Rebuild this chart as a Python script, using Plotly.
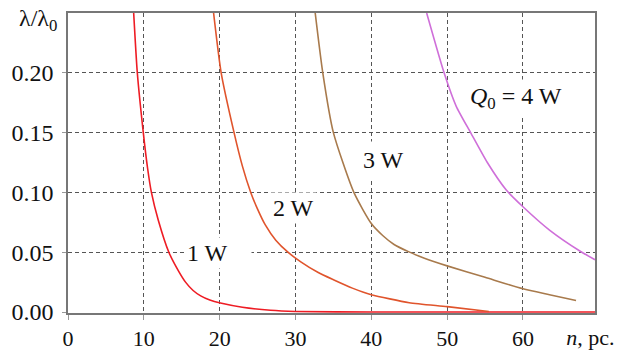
import plotly.graph_objects as go

# ---- data ----
n_1w = [8.66, 9.14, 9.93, 10.5, 11.0, 11.9, 13.3, 14.6, 15.5, 16.5, 17.5, 18.7, 20.1, 23.0, 26.7, 30.0, 40.0, 69.5]
v_1w = [0.25, 0.20, 0.15, 0.12, 0.10, 0.077, 0.05, 0.034, 0.025, 0.018, 0.0135, 0.010, 0.0075, 0.004, 0.0015, 0.0005, 0.0, 0.0]

n_2w = [19.2, 20.2, 21.9, 23.0, 24.1, 25.0, 26.0, 27.4, 29.0, 30.7, 33.0, 35.0, 37.5, 40.0, 45.0, 50.0, 55.5]
v_2w = [0.25, 0.20, 0.15, 0.122, 0.10, 0.086, 0.073, 0.060, 0.05, 0.042, 0.033, 0.027, 0.020, 0.0145, 0.0078, 0.0045, 0.0005]

n_3w = [32.6, 33.6, 35.0, 37.7, 40.0, 41.5, 43.0, 44.9, 47.0, 50.0, 55.0, 60.0, 63.5, 67.0]
v_3w = [0.25, 0.20, 0.15, 0.10, 0.074, 0.064, 0.0565, 0.0505, 0.045, 0.0386, 0.029, 0.0194, 0.0145, 0.0097]

n_4w = [47.3, 49.6, 51.2, 53.1, 55.3, 57.8, 60.0, 63.5, 67.5, 69.5]
v_4w = [0.25, 0.20, 0.172, 0.15, 0.125, 0.102, 0.088, 0.0685, 0.051, 0.0437]

x_ticks = [0, 10, 20, 30, 40, 50, 60]
y_ticks = [0.0, 0.05, 0.10, 0.15, 0.20]
y_tick_text = ["0.00", "0.05", "0.10", "0.15", "0.20"]

series = [
    (n_1w, v_1w, "#ee1c24", "1 W"),
    (n_2w, v_2w, "#e0542c", "2 W"),
    (n_3w, v_3w, "#a87a4c", "3 W"),
    (n_4w, v_4w, "#cf6fd9", "4 W"),
]

FONT = "Liberation Serif, Times New Roman, serif"
tfont = dict(family=FONT, size=24, color="#111")
xfont = dict(family=FONT, size=22, color="#111")

fig = go.Figure()
for xs, ys, col, name in series:
    fig.add_trace(go.Scatter(x=xs, y=ys, mode="lines", name=name,
                             line=dict(color=col, width=1.6, shape="spline", smoothing=0.6),
                             showlegend=False))
# empty trace that carries the x-axis caption axis
fig.add_trace(go.Scatter(x=[None], y=[None], xaxis="x2", yaxis="y", showlegend=False,
                         hoverinfo="skip"))

# curve labels (white boxes interrupt the grid like in the reference)
fig.add_annotation(x=19.8, y=0.049, text="1 W", showarrow=False, font=tfont,
                   bgcolor="white", width=62, align="left", borderpad=2)
fig.add_annotation(x=29.7, y=0.0867, text="2 W", showarrow=False, font=tfont,
                   bgcolor="white", borderpad=2)
fig.add_annotation(x=41.6, y=0.1275, text="3 W", showarrow=False, font=tfont,
                   bgcolor="white", borderpad=5)
fig.add_annotation(x=59.1, y=0.179, text="<i>Q</i><sub>0</sub> = 4 W", showarrow=False, font=tfont,
                   bgcolor="white", borderpad=3)

# y-axis caption
fig.add_annotation(xref="paper", yref="paper", x=0, y=1, xanchor="right", yanchor="middle",
                   xshift=-10, yshift=-7, text="λ/λ<sub>0</sub>", showarrow=False, font=tfont,
                   borderpad=0)

grid = dict(showgrid=True, gridcolor="#555", gridwidth=1, griddash="4px,3px")
fig.update_xaxes(range=[0, 69.5], tickvals=x_ticks, ticks="outside", ticklen=5, tickcolor="#999",
                 showline=True, linecolor="#777", linewidth=1.5, mirror=True, zeroline=False,
                 layer="below traces", tickfont=xfont, automargin=False, **grid)
fig.update_yaxes(range=[-0.0008, 0.25], tickvals=y_ticks, ticktext=y_tick_text, ticks="outside",
                 ticklen=4, tickcolor="#999", ticklabelstandoff=4,
                 showline=True, linecolor="#777", linewidth=1.5, mirror=True, zeroline=False,
                 layer="below traces", tickfont=tfont, automargin=False, **grid)

fig.update_layout(
    width=617, height=351, margin=dict(l=68, r=22, t=13, b=38, autoexpand=False),
    plot_bgcolor="white", paper_bgcolor="white", font=dict(family=FONT),
    xaxis2=dict(overlaying="x", anchor="y", side="bottom", range=[0, 69.5],
                tickvals=[68.9], ticktext=["<i>n</i>, pc."], showgrid=False, showline=False,
                zeroline=False, ticks="outside", ticklen=5, tickcolor="rgba(0,0,0,0)",
                ticklabeloverflow="allow", tickfont=xfont, automargin=False),
)

fig.write_html("out.html")
